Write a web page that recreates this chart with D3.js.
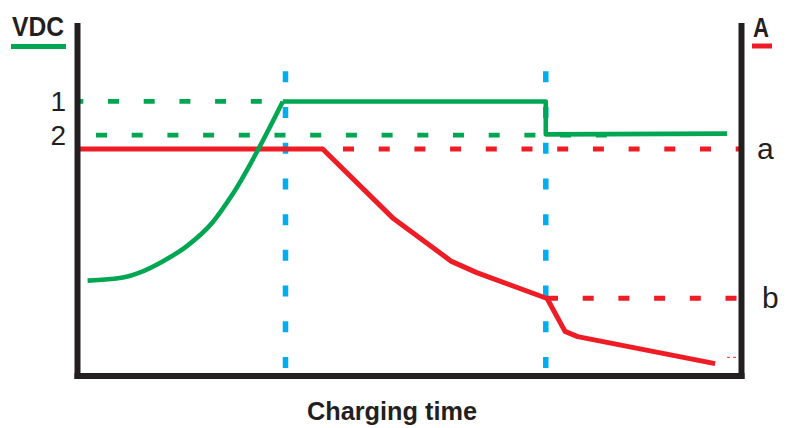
<!DOCTYPE html>
<html>
<head>
<meta charset="utf-8">
<style>
  html, body { margin: 0; padding: 0; background: #fff; }
  svg { display: block; }
</style>
<script src="https://cdn.jsdelivr.net/npm/d3@7"></script>
</head>
<body>
<div id="chart"></div>
<script>
// Charging profile (time 0-100, both axes 0-100).
const voltageTime  = [1.6, 6.9, 9.4, 12.9, 16.5, 20.4, 23.3, 31.0, 70.6, 70.6, 97.9];
const voltageValue = [27.1, 28.0, 29.4, 32.6, 36.9, 43.7, 51.4, 78.3, 78.3, 68.9, 69.1];
const rampEnd = 7; // index where the voltage ramp reaches level 1

const currentTime  = [0, 37.0, 47.5, 56.4, 60.2, 70.8, 73.5, 75.4, 96.1];
const currentValue = [64.7, 64.7, 45.1, 32.6, 29.4, 22.0, 12.6, 11.1, 3.4];

// Reference levels and their labels.
const voltageLevels = [78.3, 68.7];
const voltageLabels = ["1", "2"];
const currentLevels = [64.7, 22.1];
const currentLabels = ["a", "b"];

// Where each dashed level line runs (time from, time to).
const voltageLevelSpans = [[0, 31.0], [2.8, 79.8]];
const currentLevelSpans = [[37.0, 100], [70.8, 100]];

// Phase boundaries (blue markers) and how high they reach.
const phaseTimes = [31.4, 70.6];
const phaseTop = 86.9;

const width = 792;
const height = 428;

const colors = {green: "#00a651", red: "#ee1c25", blue: "#00aeef", ink: "#231f20"};

const svg = d3.select("#chart")
  .append("svg")
    .attr("width", width)
    .attr("height", height);

const x = d3.scaleLinear().domain([0, 100]).range([77, 741]);
const yV = d3.scaleLinear().domain([0, 100]).range([375.5, 25.5]);
const yA = d3.scaleLinear().domain([0, 100]).range([375.5, 25.5]);

// dashes keep the same pitch everywhere; anchor = a pixel where a dash begins
const dashPitch = 35.7;
function dashOffset(start, anchor) {
  return ((start - anchor) % dashPitch + dashPitch) % dashPitch;
}

const line = d3.line()
  .x(d => x(d[0]))
  .y(d => d[1]);

const smoothLine = d3.line()
  .x(d => x(d[0]))
  .y(d => d[1])
  .curve(d3.curveMonotoneX);

// Blue phase markers.
phaseTimes.forEach(t => {
  svg.append("path")
    .datum([[t, yV(phaseTop)], [t, yV(0)]])
    .attr("d", line)
    .attr("fill", "none")
    .attr("stroke", colors.blue)
    .attr("stroke-width", 5.5)
    .attr("stroke-dasharray", `11,${dashPitch - 11}`);
});

// Dashed voltage levels (1, 2).
const vAnchors = [108, 96];
voltageLevels.forEach((v, i) => {
  const [t0, t1] = voltageLevelSpans[i];
  svg.append("path")
    .datum([[t0, yV(v)], [t1, yV(v)]])
    .attr("d", line)
    .attr("fill", "none")
    .attr("stroke", colors.green)
    .attr("stroke-width", 4.8)
    .attr("stroke-dasharray", `11,${dashPitch - 11}`)
    .attr("stroke-dashoffset", dashOffset(x(t0), vAnchors[i]));
});

// Dashed current levels (a, b).
const aAnchors = [343, 547];
currentLevels.forEach((v, i) => {
  const [t0, t1] = currentLevelSpans[i];
  svg.append("path")
    .datum([[t0, yA(v)], [t1, yA(v)]])
    .attr("d", line)
    .attr("fill", "none")
    .attr("stroke", colors.red)
    .attr("stroke-width", 5)
    .attr("stroke-dasharray", `11,${dashPitch - 11}`)
    .attr("stroke-dashoffset", dashOffset(x(t0), aAnchors[i]));
});

// small stray tick of the current trace near the end
svg.append("path")
  .datum([[97.9, yA(5.2)], [99.7, yA(5.2)]])
  .attr("d", line)
  .attr("fill", "none")
  .attr("stroke", colors.red)
  .attr("stroke-width", 1)
  .attr("stroke-dasharray", "3,3");

// Current curve (red).
svg.append("path")
  .datum(currentTime.map((t, i) => [t, yA(currentValue[i])]))
  .attr("d", line)
  .attr("fill", "none")
  .attr("stroke", colors.red)
  .attr("stroke-width", 5)
  .attr("stroke-linejoin", "round");

// Voltage curve (green): smooth ramp, then the hold and float steps.
const voltagePoints = voltageTime.map((t, i) => [t, yV(voltageValue[i])]);

svg.append("path")
  .datum(voltagePoints.slice(0, rampEnd + 1))
  .attr("d", smoothLine)
  .attr("fill", "none")
  .attr("stroke", colors.green)
  .attr("stroke-width", 4.6);

svg.append("path")
  .datum(voltagePoints.slice(rampEnd))
  .attr("d", line)
  .attr("fill", "none")
  .attr("stroke", colors.green)
  .attr("stroke-width", 4.6)
  .attr("stroke-linejoin", "round");

// Frame: left, right and bottom axes without ticks.
const yAxisLeft = d3.axisLeft(yV)
  .tickValues(voltageLevels)
  .tickFormat((d, i) => voltageLabels[i])
  .tickSize(0)
  .tickSizeOuter(0)
  .tickPadding(11);

const yAxisRight = d3.axisRight(yA)
  .tickValues(currentLevels)
  .tickFormat((d, i) => currentLabels[i])
  .tickSize(0)
  .tickSizeOuter(0)
  .tickPadding(16);

const xAxis = d3.axisBottom(x)
  .tickValues([])
  .tickSizeOuter(0);

const gx = svg.append("g")
  .attr("transform", `translate(0,${yV(0)})`)
  .call(xAxis);

const gl = svg.append("g")
  .attr("transform", `translate(${x(0)},0)`)
  .call(yAxisLeft);

const gr = svg.append("g")
  .attr("transform", `translate(${x(100)},0)`)
  .call(yAxisRight);

[gx, gl, gr].forEach(g => {
  g.select(".domain")
    .attr("stroke", colors.ink)
    .attr("stroke-width", 6)
    .attr("stroke-linecap", "square");
  g.selectAll("text")
    .attr("fill", colors.ink)
    .attr("font-family", "Liberation Sans, Arial, sans-serif");
});

gl.selectAll("text").attr("font-size", 28);
gr.selectAll("text")
  .attr("font-size", 30)
  .attr("dx", (d, i) => i === 1 ? 5 : 0);

// Axis titles with their colour keys.
svg.append("text")
  .attr("x", 12)
  .attr("y", 36)
  .attr("font-family", "Liberation Sans, Arial, sans-serif")
  .attr("font-weight", "bold")
  .attr("font-size", 28)
  .attr("textLength", 52)
  .attr("lengthAdjust", "spacingAndGlyphs")
  .attr("fill", colors.ink)
  .text("VDC");

svg.append("line")
  .attr("x1", 11).attr("x2", 66)
  .attr("y1", 46.5).attr("y2", 46.5)
  .attr("stroke", colors.green)
  .attr("stroke-width", 5);

svg.append("text")
  .attr("x", 753)
  .attr("y", 37)
  .attr("font-family", "Liberation Sans, Arial, sans-serif")
  .attr("font-weight", "bold")
  .attr("font-size", 28)
  .attr("textLength", 16)
  .attr("lengthAdjust", "spacingAndGlyphs")
  .attr("fill", colors.ink)
  .text("A");

svg.append("line")
  .attr("x1", 752).attr("x2", 772)
  .attr("y1", 46).attr("y2", 46)
  .attr("stroke", colors.red)
  .attr("stroke-width", 5);

svg.append("text")
  .attr("x", 307)
  .attr("y", 420)
  .attr("font-family", "Liberation Sans, Arial, sans-serif")
  .attr("font-weight", "bold")
  .attr("font-size", 25)
  .attr("textLength", 170)
  .attr("lengthAdjust", "spacingAndGlyphs")
  .attr("fill", colors.ink)
  .text("Charging time");
</script>
</body>
</html>
